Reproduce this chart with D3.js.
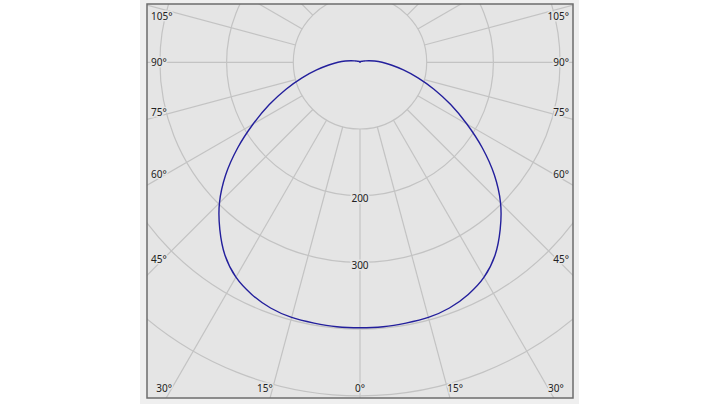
<!DOCTYPE html>
<html>
<head>
<meta charset="utf-8">
<script src="https://cdn.jsdelivr.net/npm/d3@7"></script>
<style>
  body { margin: 0; background: #fff; }
  svg { display: block; }
</style>
</head>
<body>
<div class="chart"></div>
<script>
// luminous intensity (cd) per angle from nadir, left/right symmetric
const curveAngles = [0, 5, 10, 15, 20, 25, 30, 35, 40, 45, 50, 55, 60, 65, 70, 75, 80, 85, 90,
                     95, 100, 105, 110, 120, 130, 150, 170, 180];
const intensity   = [398, 398, 397, 396, 392, 384, 372, 353, 327, 298, 263, 224, 185, 150, 118, 90, 66, 47, 33,
                     22, 14, 8.5, 5, 3, 2, 1.5, 1, 0];

const ringValues = [100, 200, 300, 400, 500, 600];
const ringLabels = [200, 300];
const gridAngles = [0, 15, 30, 45, 60, 75, 90, 105, 120, 135, 150, 165, 180,
                    195, 210, 225, 240, 255, 270, 285, 300, 315, 330, 345];
const angleLabels = [-105, -90, -75, -60, -45, -30, -15, 0, 15, 30, 45, 60, 75, 90, 105];

const width = 720, height = 405;
const frame = {x0: 147, y0: 4, x1: 573, y1: 398};
const cx = 360, cy = 62.3;

const colourBg = "#e5e5e5",
      colourGrid = "#c3c3c3",
      colourCurve = "#231f9c",
      colourText = "#222";

const r = d3.scaleLinear().domain([0, 100]).range([0, 66.7]);

const svg = d3.select(".chart").append("svg")
    .attr("width", width)
    .attr("height", height);

// outer light strip + plot frame
svg.append("rect")
    .attr("x", 140).attr("y", -1)
    .attr("width", 439).attr("height", 405)
    .attr("fill", "#efefef");

svg.append("rect")
    .attr("x", frame.x0).attr("y", frame.y0)
    .attr("width", frame.x1 - frame.x0).attr("height", frame.y1 - frame.y0)
    .attr("fill", colourBg);

svg.append("clipPath").attr("id", "plot")
  .append("rect")
    .attr("x", frame.x0).attr("y", frame.y0)
    .attr("width", frame.x1 - frame.x0).attr("height", frame.y1 - frame.y0);

const g = svg.append("g")
    .attr("clip-path", "url(#plot)")
  .append("g")
    .attr("transform", `translate(${cx},${cy})`);

// angle is measured from straight down, positive to the right
const rad = a => a * Math.PI / 180;

g.append("g")
    .attr("stroke", colourGrid)
    .attr("stroke-width", 1.2)
  .selectAll("line")
  .data(gridAngles)
  .join("line")
    .attr("x1", d => r(100) * Math.sin(rad(d)))
    .attr("y1", d => r(100) * Math.cos(rad(d)))
    .attr("x2", d => r(800) * Math.sin(rad(d)))
    .attr("y2", d => r(800) * Math.cos(rad(d)));

g.append("g")
    .attr("fill", "none")
    .attr("stroke", colourGrid)
    .attr("stroke-width", 1.2)
  .selectAll("circle")
  .data(ringValues)
  .join("circle")
    .attr("r", d => r(d));

// curve: mirror the half profile to a closed loop
const half = curveAngles.map((a, i) => [a, intensity[i]]);
const loop = half.concat(half.slice(1, -1).reverse().map(([a, v]) => [-a, v]));

const line = d3.lineRadial()
    .angle(d => Math.PI - rad(d[0]))
    .radius(d => r(d[1]))
    .curve(d3.curveCatmullRomClosed.alpha(0.5));

g.append("path")
    .datum(loop)
    .attr("fill", "none")
    .attr("stroke", colourCurve)
    .attr("stroke-width", 1.4)
    .attr("d", line);

// labels
const labels = svg.append("g")
    .attr("font-family", "'Noto Sans', sans-serif")
    .attr("font-size", 10)
    .attr("fill", colourText)
    .attr("stroke", colourBg)
    .attr("stroke-width", 3)
    .attr("paint-order", "stroke");

labels.selectAll("text.ring")
  .data(ringLabels)
  .join("text")
    .attr("class", "ring")
    .attr("x", cx)
    .attr("y", d => cy + r(d) + 3)
    .attr("dy", "0.35em")
    .attr("text-anchor", "middle")
    .text(d => d);

function labelPos(a) {
  const s = Math.sin(rad(a)), c = Math.cos(rad(a));
  const side = Math.abs(s) > 1e-6 ? cy + (frame.x1 - cx) * c / Math.abs(s) : Infinity;
  if (side < frame.y1 - 6) {
    // on the left / right border
    let y = cy + 200 * c / Math.abs(s) - (c > 1e-6 ? 3 : 0);
    y = Math.max(16, Math.min(388, y));
    return a < 0 ? {x: frame.x0 + 4, y, anchor: "start"} : {x: frame.x1 - 4, y, anchor: "end"};
  }
  // on the bottom border
  const x = cx + (388 - cy) * s / c;
  return {x, y: 388, anchor: a < 0 ? "end" : a > 0 ? "start" : "middle"};
}

labels.selectAll("text.angle")
  .data(angleLabels)
  .join("text")
    .attr("class", "angle")
    .each(function(d) {
      const p = labelPos(d);
      d3.select(this)
        .attr("x", p.x)
        .attr("y", p.y)
        .attr("dy", "0.35em")
        .attr("text-anchor", p.anchor);
    })
    .text(d => `${Math.abs(d)}°`);

// frame border on top
svg.append("rect")
    .attr("x", frame.x0).attr("y", frame.y0)
    .attr("width", frame.x1 - frame.x0).attr("height", frame.y1 - frame.y0)
    .attr("fill", "none")
    .attr("stroke", "#6c6c6c")
    .attr("stroke-width", 1.5);
</script>
</body>
</html>
